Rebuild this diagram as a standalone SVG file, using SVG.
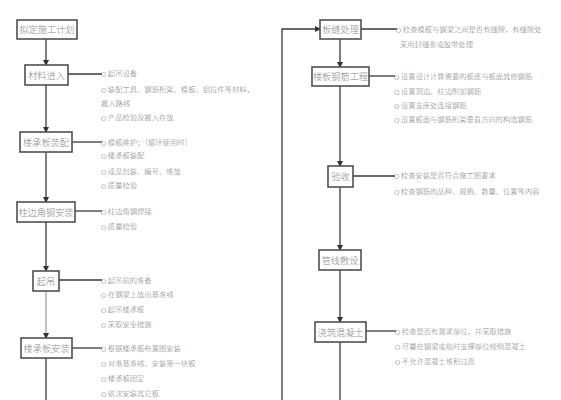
<svg xmlns="http://www.w3.org/2000/svg" width="561" height="400" viewBox="0 0 561 400">
<defs>
<marker id="arr" markerWidth="6" markerHeight="6" refX="5" refY="3" orient="auto" markerUnits="userSpaceOnUse"><path d="M0,0 L6,3 L0,6 Z" fill="#333"/></marker>
</defs>
<style>
.box{fill:#fff;stroke:#505050;stroke-width:1.6}
.bt{font-family:"Noto Sans CJK SC","Noto Sans CJK JP",sans-serif;font-size:9.2px;fill:#8a8a8a;text-anchor:middle;font-weight:300}
.it{font-family:"Noto Sans CJK SC","Noto Sans CJK JP",sans-serif;font-size:7.3px;fill:#808080;font-weight:300}
.c{font-family:"DejaVu Sans",sans-serif;font-size:6px;fill:#555;font-weight:400}
.ln{stroke:#3a3a3a;stroke-width:1.3;fill:none}
.lnl{stroke:#9a9a9a;stroke-width:1.2;fill:none}
</style>
<rect width="561" height="400" fill="#fff"/>
<g id="connectors">
<line class="ln" x1="46" y1="39" x2="46" y2="65" marker-end="url(#arr)"/>
<line class="ln" x1="46" y1="85" x2="46" y2="132" marker-end="url(#arr)"/>
<line class="ln" x1="46" y1="152" x2="46" y2="202" marker-end="url(#arr)"/>
<line class="ln" x1="46" y1="222" x2="46" y2="271" marker-end="url(#arr)"/>
<line class="lnl" x1="46" y1="291" x2="46" y2="338" marker-end="url(#arr)"/>
<line class="ln" x1="46" y1="358" x2="46" y2="400"/>
<polyline class="ln" points="282,400 282,29 320,29" marker-end="url(#arr)"/>
<line class="ln" x1="340" y1="39" x2="340" y2="67" marker-end="url(#arr)"/>
<line class="ln" x1="340" y1="86" x2="340" y2="166" marker-end="url(#arr)"/>
<line class="ln" x1="340" y1="187" x2="340" y2="250" marker-end="url(#arr)"/>
<line class="ln" x1="340" y1="270" x2="340" y2="322" marker-end="url(#arr)"/>
<line class="ln" x1="340" y1="342" x2="340" y2="400"/>
<line class="ln" x1="68" y1="74" x2="102" y2="74"/>
<line class="ln" x1="72" y1="142" x2="102" y2="142"/>
<line class="ln" x1="75" y1="211" x2="102" y2="211"/>
<line class="ln" x1="59" y1="280" x2="102" y2="280"/>
<line class="ln" x1="72" y1="348" x2="102" y2="348"/>
<line class="ln" x1="361" y1="29" x2="397" y2="29"/>
<line class="ln" x1="369" y1="76" x2="395" y2="76"/>
<line class="ln" x1="353" y1="176" x2="395" y2="176"/>
<line class="ln" x1="366" y1="331" x2="396" y2="331"/>
</g>
<g id="n1"><rect class="box" x="17" y="20" width="60" height="19"/><text class="bt" x="47" y="33">拟定施工计划</text></g>
<g id="n2"><rect class="box" x="25" y="65" width="43" height="20"/><text class="bt" x="46.5" y="78.5">材料进入</text>
<text class="it" x="101" y="76"><tspan class="c">○</tspan> 起吊设备</text>
<text class="it" x="101" y="92"><tspan class="c">○</tspan> 装配工具、钢筋桁架、模板、铝拉件等材料，</text>
<text class="it" x="101" y="106">搬入路线</text>
<text class="it" x="101" y="120"><tspan class="c">○</tspan> 产品检验及搬入存放</text></g>
<g id="n3"><rect class="box" x="20" y="132" width="52" height="20"/><text class="bt" x="46" y="145.5">楼承板装配</text>
<text class="it" x="101" y="144.5"><tspan class="c">○</tspan> 模板维护；（循环使用时）</text>
<text class="it" x="101" y="158"><tspan class="c">○</tspan> 楼承板装配</text>
<text class="it" x="101" y="173.5"><tspan class="c">○</tspan> 成品包装、编号、堆放</text>
<text class="it" x="101" y="188"><tspan class="c">○</tspan> 质量检验</text></g>
<g id="n4"><rect class="box" x="17" y="202" width="58" height="20"/><text class="bt" x="46" y="215.5">柱边角钢安装</text>
<text class="it" x="101" y="213.5"><tspan class="c">○</tspan> 柱边角钢焊接</text>
<text class="it" x="101" y="229"><tspan class="c">○</tspan> 质量检验</text></g>
<g id="n5"><rect class="box" x="33" y="271" width="26" height="20"/><text class="bt" x="46" y="284.5">起吊</text>
<text class="it" x="101" y="282.5"><tspan class="c">○</tspan> 起吊前的准备</text>
<text class="it" x="101" y="297"><tspan class="c">○</tspan> 在钢梁上放出基准线</text>
<text class="it" x="101" y="312"><tspan class="c">○</tspan> 起吊楼承板</text>
<text class="it" x="101" y="327"><tspan class="c">○</tspan> 采取安全措施</text></g>
<g id="n6"><rect class="box" x="21" y="338" width="51" height="20"/><text class="bt" x="46.5" y="351.5">楼承板安装</text>
<text class="it" x="101" y="351"><tspan class="c">○</tspan> 根据楼承板布置图安装</text>
<text class="it" x="101" y="366"><tspan class="c">○</tspan> 对准基准线，安装第一块板</text>
<text class="it" x="101" y="381"><tspan class="c">○</tspan> 楼承板固定</text>
<text class="it" x="101" y="396"><tspan class="c">○</tspan> 依次安装其它板</text></g>
<g id="n7"><rect class="box" x="320" y="20" width="41" height="19"/><text class="bt" x="340.5" y="33">板缝处理</text>
<text class="it" x="396" y="31.5"><tspan class="c">○</tspan> 检查模板与钢梁之间是否有缝隙，有缝隙处</text>
<text class="it" x="400" y="46.5">采用封缝条或胶带处理</text></g>
<g id="n8"><rect class="box" x="312" y="67" width="57" height="19"/><text class="bt" x="340.5" y="80">楼板钢筋工程</text>
<text class="it" x="394" y="78.5"><tspan class="c">○</tspan> 设置设计计算需要的板底与板面其他钢筋</text>
<text class="it" x="394" y="93.5"><tspan class="c">○</tspan> 设置洞边、柱边附加钢筋</text>
<text class="it" x="394" y="107.5"><tspan class="c">○</tspan> 设置支座处连接钢筋</text>
<text class="it" x="394" y="121.5"><tspan class="c">○</tspan> 设置板面与钢筋桁架垂直方向的构造钢筋</text></g>
<g id="n9"><rect class="box" x="328" y="166" width="25" height="21"/><text class="bt" x="340.5" y="180">验收</text>
<text class="it" x="394" y="178"><tspan class="c">○</tspan> 检查安装是否符合施工图要求</text>
<text class="it" x="394" y="193.5"><tspan class="c">○</tspan> 检查钢筋的品种、规格、数量、位置等内容</text></g>
<g id="n10"><rect class="box" x="319" y="250" width="42" height="20"/><text class="bt" x="340" y="263.5">管线敷设</text></g>
<g id="n11"><rect class="box" x="315" y="322" width="51" height="20"/><text class="bt" x="340.5" y="335.5">浇筑混凝土</text>
<text class="it" x="395" y="333.5"><tspan class="c">○</tspan> 检查是否有漏浆部位，并采取措施</text>
<text class="it" x="395" y="348.5"><tspan class="c">○</tspan> 尽量在钢梁或临时支撑部位倾倒混凝土</text>
<text class="it" x="395" y="363.5"><tspan class="c">○</tspan> 不允许混凝土堆积过高</text></g>
</svg>
